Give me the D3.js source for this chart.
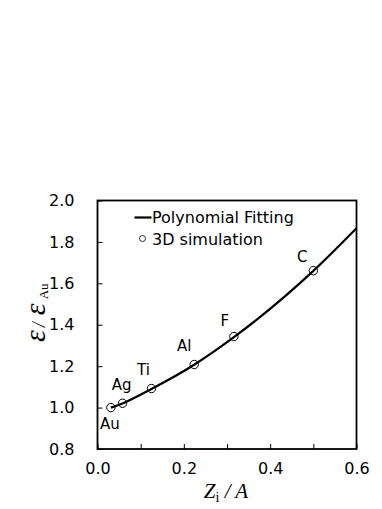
<!DOCTYPE html>
<html>
<head>
<meta charset="utf-8">
<script src="https://cdn.jsdelivr.net/npm/d3@7"></script>
<style>
  body { margin: 0; background: #fff; }
</style>
</head>
<body>
<div id="chart-area"></div>
<script>
// data
var elements = ["Au", "Ag", "Ti", "Al", "F", "C"];
var simX = [0.031, 0.058, 0.125, 0.224, 0.316, 0.5];
var simY = [1.0, 1.021, 1.092, 1.208, 1.343, 1.661];
// fitted curve
var fitX = [0.031, 0.058, 0.125, 0.224, 0.316, 0.5, 0.6];
var fitY = [1.0, 1.02, 1.09, 1.207, 1.34, 1.66, 1.866];
var xTicks = [0, 0.1, 0.2, 0.3, 0.4, 0.5, 0.6];
var xLabels = [0, 0.2, 0.4, 0.6];
var yTicks = [0.8, 1.0, 1.2, 1.4, 1.6, 1.8, 2.0];

var sans = "'DejaVu Sans', Verdana, sans-serif";
var serif = "'Liberation Serif', 'Times New Roman', serif";

var margin = { left: 97.5, top: 200.5, right: 25.5 };
var width = 382 - margin.left - margin.right,
    height = 449 - margin.top;

var svg = d3.select("#chart-area")
    .append("svg")
    .attr("width", 382)
    .attr("height", 509);

var g = svg.append("g")
    .attr("transform", "translate(" + margin.left + "," + margin.top + ")");

var x = d3.scaleLinear().domain([0, 0.6]).range([0, width]);
var y = d3.scaleLinear().domain([0.8, 2.0]).range([height, 0]);

// axes, ticks pointing inward
var xAxis = d3.axisBottom(x)
    .tickValues(xTicks)
    .tickSizeInner(-5)
    .tickSizeOuter(0)
    .tickPadding(14)
    .tickFormat(function(d) {
        return xLabels.some(function(v) { return Math.abs(v - d) < 1e-9; }) ? d3.format(".1f")(d) : "";
    });
g.append("g")
    .attr("class", "x axis")
    .attr("transform", "translate(0," + height + ")")
    .call(xAxis);

var yAxis = d3.axisLeft(y)
    .tickValues(yTicks)
    .tickSizeInner(-5)
    .tickSizeOuter(0)
    .tickPadding(23)
    .tickFormat(d3.format(".1f"));
g.append("g")
    .attr("class", "y axis")
    .call(yAxis);

g.selectAll(".axis .domain").remove();
g.selectAll(".axis line").attr("stroke", "#000").attr("stroke-width", 1);
g.selectAll(".axis text")
    .style("font-size", "16px")
    .style("font-family", sans)
    .attr("fill", "#000");

// frame
g.append("rect")
    .attr("width", width)
    .attr("height", height)
    .attr("fill", "none")
    .attr("stroke", "#000")
    .attr("stroke-width", 1.8);

// fitted line
var fit = fitX.map(function(d, i) { return [d, fitY[i]]; });
var line = d3.line()
    .x(function(d) { return x(d[0]); })
    .y(function(d) { return y(d[1]); })
    .curve(d3.curveMonotoneX);
g.append("path")
    .datum(fit)
    .attr("d", line)
    .attr("fill", "none")
    .attr("stroke", "#000")
    .attr("stroke-width", 2.2);

// simulation points
var pts = simX.map(function(d, i) { return { name: elements[i], x: d, y: simY[i] }; });
g.selectAll("circle.sim")
    .data(pts)
    .enter().append("circle")
    .attr("class", "sim")
    .attr("cx", function(d) { return x(d.x); })
    .attr("cy", function(d) { return y(d.y); })
    .attr("r", 4.2)
    .attr("fill", "none")
    .attr("stroke", "#000")
    .attr("stroke-width", 1);

// element labels, offsets from their points
var labelOff = { Au: [-1, 16], Ag: [-1, -18], Ti: [-8, -19], Al: [-10, -19], F: [-9, -16], C: [-11, -14] };
g.selectAll("text.el")
    .data(pts)
    .enter().append("text")
    .attr("class", "el")
    .attr("x", function(d) { return x(d.x) + labelOff[d.name][0]; })
    .attr("y", function(d) { return y(d.y) + labelOff[d.name][1]; })
    .attr("text-anchor", "middle")
    .attr("dominant-baseline", "central")
    .style("font-family", sans)
    .style("font-size", "15px")
    .text(function(d) { return d.name; });

// legend
var lg = g.append("g").attr("transform", "translate(37,17)");
lg.append("line")
    .attr("x1", 0).attr("x2", 17)
    .attr("stroke", "#000").attr("stroke-width", 2.2);
lg.append("text")
    .attr("x", 17.5).attr("y", 0)
    .attr("dominant-baseline", "central")
    .style("font-family", sans)
    .style("font-size", "16px")
    .text("Polynomial Fitting");
lg.append("circle")
    .attr("cx", 8).attr("cy", 21)
    .attr("r", 3)
    .attr("fill", "none").attr("stroke", "#000").attr("stroke-width", 0.8);
lg.append("text")
    .attr("x", 17.5).attr("y", 22)
    .attr("dominant-baseline", "central")
    .style("font-family", sans)
    .style("font-size", "16px")
    .text("3D simulation");

// axis titles
var xt = svg.append("text")
    .attr("x", 226)
    .attr("y", 498)
    .attr("text-anchor", "middle")
    .style("font-family", serif)
    .style("font-size", "21px");
xt.append("tspan").style("font-style", "italic").text("Z");
xt.append("tspan").style("font-size", "14px").attr("dy", 4).text("i");
xt.append("tspan").style("font-style", "italic").attr("dy", -4).text(" / A");

var yt = svg.append("text")
    .attr("transform", "translate(45,342) rotate(-90)")
    .attr("text-anchor", "start")
    .style("font-family", serif);
yt.append("tspan").style("font-style", "italic").style("font-size", "30px").text("ε");
yt.append("tspan").style("font-style", "italic").style("font-size", "18px").attr("dx", 3).text("/");
yt.append("tspan").style("font-style", "italic").style("font-size", "30px").attr("dx", 7).text("ε");
yt.append("tspan").style("font-size", "13px").attr("dx", 4).attr("dy", 3).text("Au");
</script>
</body>
</html>
